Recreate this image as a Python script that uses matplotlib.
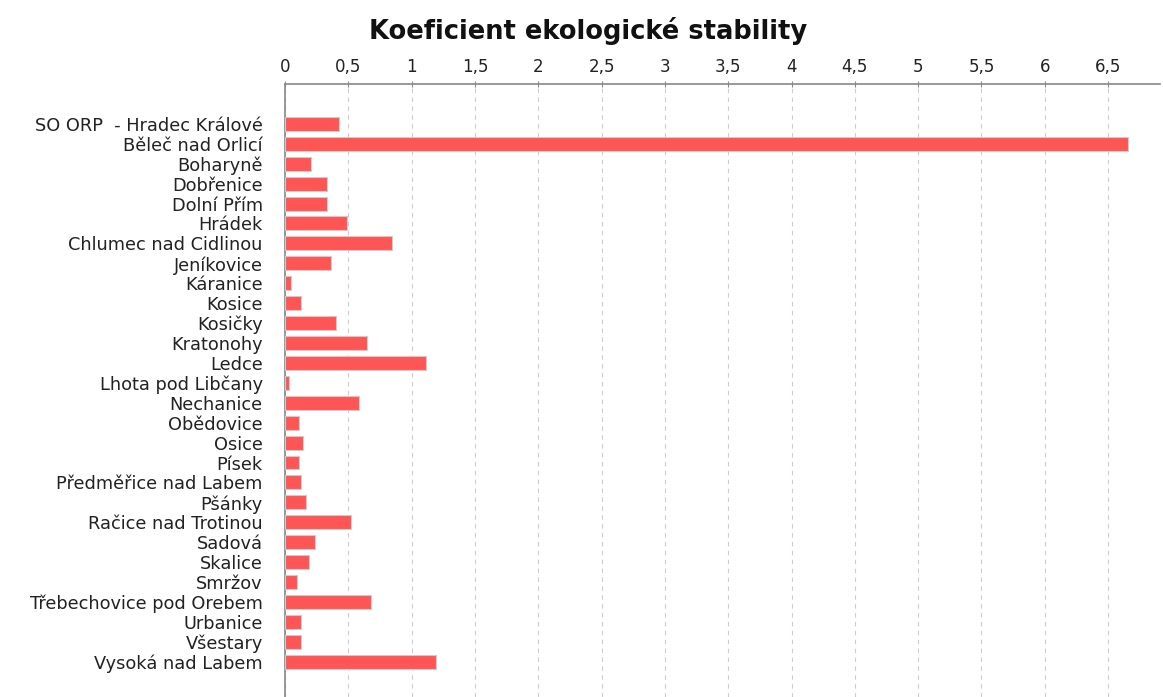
import matplotlib.pyplot as plt
from matplotlib.ticker import FuncFormatter, MultipleLocator

plt.rcParams["font.family"] = "DejaVu Sans"

# obce v SO ORP a jejich koeficient ekologicke stability
obce = ["SO ORP  - Hradec Králové", "Běleč nad Orlicí", "Boharyně", "Dobřenice",
        "Dolní Přím", "Hrádek", "Chlumec nad Cidlinou", "Jeníkovice", "Káranice",
        "Kosice", "Kosičky", "Kratonohy", "Ledce", "Lhota pod Libčany", "Nechanice",
        "Obědovice", "Osice", "Písek", "Předměřice nad Labem", "Pšánky",
        "Račice nad Trotinou", "Sadová", "Skalice", "Smržov",
        "Třebechovice pod Orebem", "Urbanice", "Všestary", "Vysoká nad Labem"]
kes = [0.43, 6.66, 0.205, 0.334, 0.334, 0.49, 0.845, 0.363, 0.047,
       0.13, 0.40, 0.65, 1.11, 0.03, 0.587,
       0.113, 0.142, 0.11, 0.129, 0.163,
       0.52, 0.24, 0.19, 0.097,
       0.68, 0.129, 0.129, 1.19]

fig = plt.figure(figsize=(11.63, 6.97), dpi=100)
ax = fig.add_axes([285 / 1163, 0.0, (1160 - 285) / 1163, (697 - 84) / 697])

y = list(range(len(obce)))
ax.barh(y, kes, height=0.7, color="#ff5555", edgecolor="#cccccc", linewidth=0.8, zorder=3)

ax.set_xlim(0, 6.91)
ax.set_ylim(len(obce) - 1 + 1.77, -2)
ax.set_yticks(y)
ax.set_yticklabels(obce, fontsize=12.8, color="#222222")

ax.xaxis.tick_top()
ax.xaxis.set_major_locator(MultipleLocator(0.5))
ax.xaxis.set_major_formatter(FuncFormatter(lambda v, p: f"{v:g}".replace(".", ",")))
ax.tick_params(axis="x", direction="inout", length=5, color="#888888",
               labelsize=12, labelcolor="#222222", pad=3)
ax.tick_params(axis="y", length=0, pad=16)
ax.grid(axis="x", color="#cccccc", linestyle=(0, (4, 4)), linewidth=0.8, zorder=0)

for s in ["right", "bottom"]:
    ax.spines[s].set_visible(False)
for s in ["top", "left"]:
    ax.spines[s].set_color("#888888")
    ax.spines[s].set_linewidth(1.2)

fig.text(0.506, 0.956, "Koeficient ekologické stability", ha="center", va="center",
         fontsize=18.5, fontweight="bold", color="#111111")

fig.savefig("out.png", dpi=100)
